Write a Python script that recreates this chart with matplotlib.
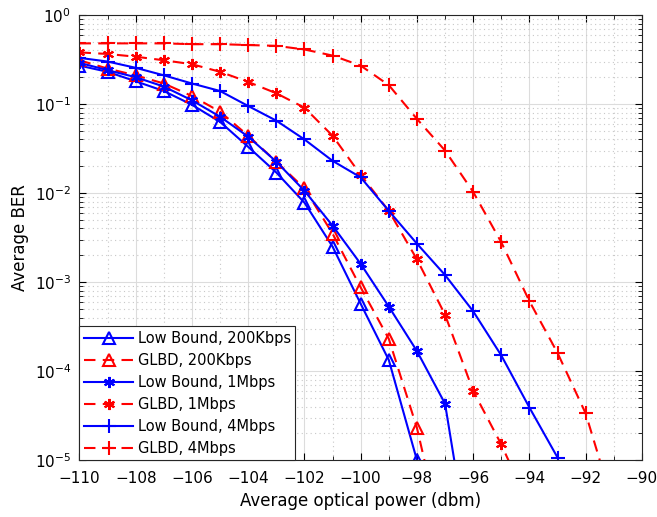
import numpy as np
import matplotlib
matplotlib.use("Agg")
import matplotlib.pyplot as plt
from matplotlib.ticker import MultipleLocator, LogLocator, NullFormatter

# received optical power (dBm)
power = np.arange(-110, -89, 1)

# BER curves
lb_200k = [0.27, 0.23, 0.18, 0.14, 0.098, 0.063, 0.033, 0.017, 0.0078, 0.0025,
           5.7e-4, 1.33e-4, 1.0e-5]
glbd_200k = [0.31, 0.25, 0.21, 0.17, 0.123, 0.082, 0.044, 0.0225, 0.0113, 0.0035,
             8.7e-4, 2.3e-4, 2.3e-5, 1.0e-6]
lb_1m = [0.29, 0.24, 0.20, 0.157, 0.11, 0.072, 0.043, 0.0225, 0.0106, 0.0043,
         0.0016, 5.3e-4, 1.68e-4, 4.3e-5, 5e-7]
glbd_1m = [0.38, 0.365, 0.34, 0.31, 0.28, 0.23, 0.177, 0.132, 0.091, 0.044,
           0.016, 0.0063, 0.0018, 4.3e-4, 6e-5, 1.5e-5, 3e-6]
lb_4m = [0.33, 0.30, 0.255, 0.21, 0.17, 0.14, 0.095, 0.065, 0.040, 0.023,
         0.015, 0.0063, 0.0027, 0.0012, 4.7e-4, 1.5e-4, 3.9e-5, 1.07e-5]
glbd_4m = [0.48, 0.48, 0.48, 0.48, 0.47, 0.47, 0.46, 0.45, 0.41, 0.35,
           0.27, 0.163, 0.068, 0.030, 0.0103, 0.0028, 6.1e-4, 1.6e-4, 3.35e-5, 3e-6]

labels = ["Low Bound, 200Kbps", "GLBD, 200Kbps", "Low Bound, 1Mbps",
          "GLBD, 1Mbps", "Low Bound, 4Mbps", "GLBD, 4Mbps"]

fig = plt.figure(figsize=(6.57, 5.17), dpi=100)
ax = fig.add_axes([0.121, 0.110, 0.856, 0.861])

star = (6, 2, 0)
dash = (0, (5.5, 3.5))
series = [
    (lb_200k, "blue", "-", "^", 9),
    (glbd_200k, "red", dash, "^", 9),
    (lb_1m, "blue", "-", star, 8),
    (glbd_1m, "red", dash, star, 8),
    (lb_4m, "blue", "-", "+", 10),
    (glbd_4m, "red", dash, "+", 10),
]
for (vals, col, ls, mk, ms), lab in zip(series, labels):
    ax.semilogy(power[:len(vals)], vals, color=col, linestyle=ls, marker=mk,
                markersize=ms, markerfacecolor="none", markeredgewidth=1.5,
                linewidth=1.5, label=lab)

ax.set_xlim(-110, -90)
ax.set_ylim(1e-5, 1)
ax.xaxis.set_major_locator(MultipleLocator(2))
ax.xaxis.set_minor_locator(MultipleLocator(1))
ax.yaxis.set_major_locator(LogLocator(base=10, numticks=10))
ax.yaxis.set_minor_locator(LogLocator(base=10, subs=np.arange(2, 10), numticks=20))
ax.yaxis.set_minor_formatter(NullFormatter())

ax.grid(True, which="major", color="#dcdcdc", linestyle="-", linewidth=0.8)
ax.grid(True, which="minor", color="#c8c8c8", linestyle=(0, (1, 3)), linewidth=0.8)
ax.set_axisbelow(True)
ax.tick_params(which="both", direction="in", top=True, right=True, labelsize=11)
ax.tick_params(axis="x", which="major", pad=8)
ax.tick_params(axis="y", which="major", pad=6)
ax.tick_params(which="major", length=5)
ax.tick_params(which="minor", length=3)
for s in ax.spines.values():
    s.set_color("#262626")
    s.set_linewidth(0.8)

ax.set_xlabel("Average optical power (dbm)", fontsize=12, labelpad=4)
ax.set_ylabel("Average BER", fontsize=12)

leg = ax.legend(loc="lower left", fontsize=10.5, handlelength=3.4, borderaxespad=0.0,
                labelspacing=0.48, handletextpad=0.3, borderpad=0.3,
                fancybox=False, framealpha=1, edgecolor="#262626")
leg.get_frame().set_linewidth(0.8)

fig.savefig("out.png", dpi=100)
